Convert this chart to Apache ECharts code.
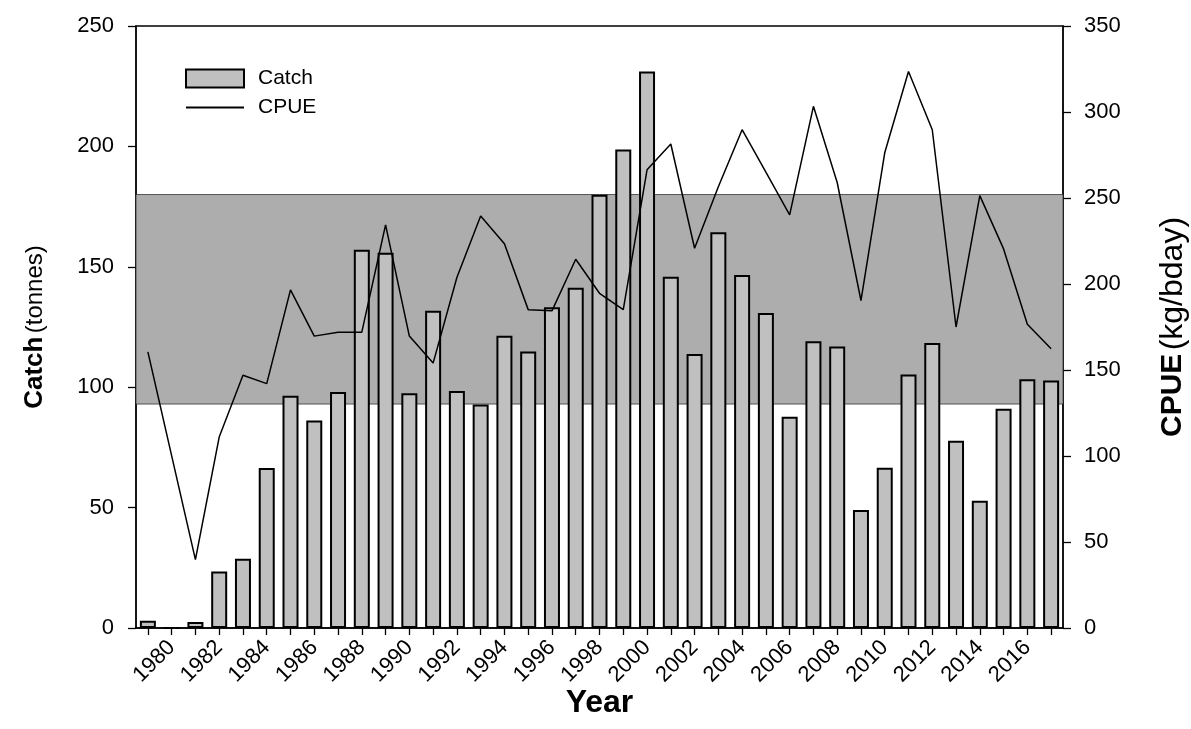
<!DOCTYPE html>
<html>
<head>
<meta charset="utf-8">
<script src="https://cdn.jsdelivr.net/npm/echarts@6/dist/echarts.min.js"></script>
<style>html,body{margin:0;padding:0;background:#fff;overflow:hidden}#c{width:1191px;height:729px}</style>
</head>
<body>
<div id="c"></div>
<script>
const years = ['1979','1980','1981','1982','1983','1984','1985','1986','1987','1988','1989','1990','1991','1992','1993','1994','1995','1996','1997','1998','1999','2000','2001','2002','2003','2004','2005','2006','2007','2008','2009','2010','2011','2012','2013','2014','2015','2016','2017'];
const catchTonnes = [3, 0, 2.5, 23.5, 28.8, 66.4, 96.4, 86.2, 98.0, 157.1, 155.8, 97.5, 131.8, 98.4, 92.8, 121.4, 114.8, 133.2, 141.3, 179.9, 198.7, 231.1, 145.9, 113.8, 164.3, 146.6, 130.8, 87.7, 119.1, 116.9, 49.0, 66.6, 105.3, 118.4, 77.8, 52.8, 91.0, 103.3, 102.8];
const cpue = [160.5, null, 39.8, 111.0, 146.9, 142.1, 196.6, 169.7, 172.0, 172.0, 234.4, 169.7, 154.0, 203.8, 239.5, 223.4, 185.1, 184.4, 214.4, 194.6, 185.1, 266.4, 281.4, 220.8, 256.5, 289.7, 265.0, 240.2, 303.3, 259.0, 190.4, 276.3, 323.5, 289.7, 175.0, 251.4, 220.4, 176.6, 162.3];
const bandCatch = [93, 180];
const leftTicks = {min: 0, max: 250, interval: 50};
const rightTicks = {min: 0, max: 350, interval: 50};

const FONT = 'Liberation Sans, Arial, sans-serif';
const chart = echarts.init(document.getElementById('c'), null, {renderer: 'canvas', width: 1191, height: 729});
chart.setOption({
  animation: false,
  backgroundColor: '#fff',
  textStyle: {fontFamily: FONT, color: '#000'},
  grid: {left: 136, right: 128, top: 26, bottom: 101, show: true, borderColor: '#000', borderWidth: 1.3, backgroundColor: 'transparent', containLabel: false, outerBoundsMode: 'none'},
  legend: {
    orient: 'vertical', left: 180, top: 63, itemWidth: 58, itemHeight: 18, itemGap: 8,
    textStyle: {fontFamily: FONT, fontSize: 21, color: '#000', padding: [0,0,0,9]},
    data: [
      {name: 'Catch', icon: 'rect'},
      {name: 'CPUE', itemStyle: {opacity: 0}}
    ]
  },
  xAxis: {
    type: 'category', data: years, boundaryGap: true,
    name: 'Year', nameLocation: 'middle', nameGap: 59, nameMoveOverlap: false,
    nameTextStyle: {fontFamily: FONT, fontSize: 32, fontWeight: 'bold', color: '#000'},
    axisLine: {lineStyle: {color: '#000', width: 1.5}},
    axisTick: {show: true, interval: 0, alignWithLabel: true, length: 7, lineStyle: {color: '#000', width: 1.3}},
    axisLabel: {interval: function (i) { return i % 2 === 1; }, rotate: 45, margin: 16, fontFamily: FONT, fontSize: 22, color: '#000'}
  },
  yAxis: [
    {
      type: 'value', min: leftTicks.min, max: leftTicks.max, interval: leftTicks.interval,
      name: '{b|Catch} {n|(tonnes)}', nameLocation: 'middle', nameGap: 88, nameRotate: 90,
      nameTextStyle: {rich: {b: {fontFamily: FONT, fontSize: 26, fontWeight: 'bold', color: '#000'}, n: {fontFamily: FONT, fontSize: 24, color: '#000'}}},
      axisLine: {show: true, lineStyle: {color: '#000', width: 1.5}},
      axisTick: {show: true, length: 8, lineStyle: {color: '#000', width: 1.3}},
      axisLabel: {margin: 22, fontFamily: FONT, fontSize: 22, color: '#000'},
      splitLine: {show: false}
    },
    {
      type: 'value', min: rightTicks.min, max: rightTicks.max, interval: rightTicks.interval, position: 'right',
      name: '{b|CPUE} {n|(kg/bday)}', nameLocation: 'middle', nameGap: 94, nameRotate: 90,
      nameTextStyle: {rich: {b: {fontFamily: FONT, fontSize: 30, fontWeight: 'bold', color: '#000'}, n: {fontFamily: FONT, fontSize: 32, color: '#000'}}},
      axisLine: {show: true, lineStyle: {color: '#000', width: 1.5}},
      axisTick: {show: true, length: 8, lineStyle: {color: '#000', width: 1.3}},
      axisLabel: {margin: 21, fontFamily: FONT, fontSize: 22, color: '#000'},
      splitLine: {show: false}
    }
  ],
  series: [
    {
      name: 'Catch', type: 'bar', yAxisIndex: 0, data: catchTonnes, barWidth: 16,
      itemStyle: {color: '#c0c0c0', borderColor: '#000', borderWidth: 2},
      markArea: {
        silent: true,
        itemStyle: {color: '#adadad', borderColor: '#333', borderWidth: 0.8},
        data: [[{yAxis: bandCatch[0]}, {yAxis: bandCatch[1]}]]
      }
    },
    {
      name: 'CPUE', type: 'line', yAxisIndex: 1, data: cpue, connectNulls: true,
      symbol: 'none', lineStyle: {color: '#000', width: 1.5}, itemStyle: {color: '#000'}
    }
  ]
});
</script>
</body>
</html>
